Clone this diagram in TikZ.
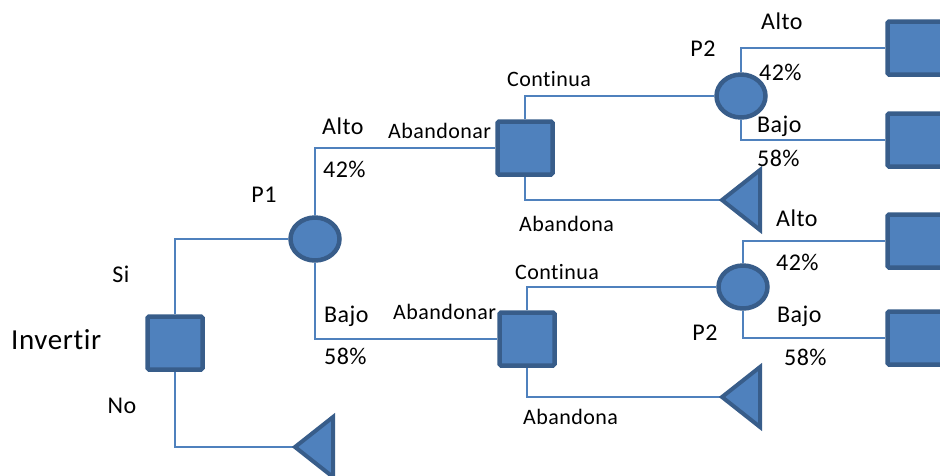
\documentclass[tikz,border=0pt]{standalone}
\usepackage{fontspec}
\setmainfont{Carlito}[Ligatures=NoCommon, LetterSpace=2]
\usetikzlibrary{shapes.geometric,backgrounds}
\definecolor{nodefill}{HTML}{4F81BD}
\definecolor{nodeedge}{HTML}{385D8A}
\definecolor{linkcol}{HTML}{4F81BD}
\tikzset{
  decision/.style={draw=nodeedge, fill=nodefill, line width=4.5pt, rounded corners=1.5pt,
    minimum width=55pt, minimum height=53pt, inner sep=0pt},
  chance/.style={ellipse, draw=nodeedge, fill=nodefill, line width=4.5pt,
    minimum width=49pt, minimum height=43pt, inner sep=0pt},
  endtri/.style={draw=nodeedge, fill=nodefill, line width=4pt, line join=miter},
  link/.style={draw=linkcol, line width=1.6pt},
  lbl/.style={font=\fontsize{24}{24}\selectfont, inner sep=0pt},
  slbl/.style={font=\fontsize{22}{22}\selectfont, inner sep=0pt},
  blbl/.style={font=\fontsize{29}{29}\selectfont, inner sep=0pt, anchor=west}
}
\begin{document}
\begin{tikzpicture}[x=1pt,y=-1pt]
\useasboundingbox (0,0) rectangle (940,475);

% decision and chance nodes
\node[decision] (inv) at (175,343) {};
\node[chance]   (p1)  at (315,239) {};
\node[decision] (d2)  at (525,148) {};
\node[decision] (d3)  at (527,339) {};
\node[chance]   (p2a) at (741,96) {};
\node[chance]   (p2b) at (743,287) {};
\node[decision] (e1)  at (915,48) {};
\node[decision] (e2)  at (915,140) {};
\node[decision] (e3)  at (915,241) {};
\node[decision] (e4)  at (915,338) {};

% terminal triangles (tip coordinates)
\coordinate (t1) at (295,447);
\coordinate (t2) at (722,200);
\coordinate (t3) at (722,397);
\foreach \t in {t1,t2,t3}{
  \draw[endtri] (\t) -- ++(38,-30) -- ++(0,60) -- cycle;
}

% branches
\begin{pgfonlayer}{background}
\draw[link] (inv.north) |- (p1.west);
\draw[link] (inv.south) |- (t1);
\draw[link] (p1.north) |- (d2.west);
\draw[link] (p1.south) |- (d3.west);
\draw[link] (d2.north) |- (p2a.west);
\draw[link] (d2.south) |- (t2);
\draw[link] (d3.north) |- (p2b.west);
\draw[link] (d3.south) |- (t3);
\draw[link] (p2a.north) |- (e1.west);
\draw[link] (p2a.south) |- (e2.west);
\draw[link] (p2b.north) |- (e3.west);
\draw[link] (p2b.south) |- (e4.west);
\end{pgfonlayer}

% labels
\node[blbl] (tinv) at (11,340) {Invertir};
\node[lbl] (tsi) at (121,274) {Si};
\node[lbl] (tno) at (122,406) {No};
\node[lbl] (tp1) at (264,195) {P1};
\node[lbl,anchor=west] (ta1) at (322,126) {Alto};
\node[lbl,anchor=west] (tq1) at (323,169) {42\%};
\node[lbl,anchor=west] (tb1) at (324,316) {Bajo};
\node[lbl,anchor=west] (tr1) at (324,356) {58\%};
\node[slbl,anchor=west] (tab1) at (388,131) {Abandonar};
\node[slbl,anchor=west] (tab2) at (393,312) {Abandonar};
\node[slbl,anchor=west] (tc1) at (507,79) {Continua};
\node[slbl,anchor=west] (tc2) at (515,272) {Continua};
\node[slbl,anchor=west] (tx1) at (519,224) {Abandona};
\node[slbl,anchor=west] (tx2) at (523,417) {Abandona};
\node[lbl] (tp2a) at (703,49) {P2};
\node[lbl] (tp2b) at (705,333) {P2};
\node[lbl,anchor=west] (ta2) at (761,21) {Alto};
\node[lbl,anchor=west] (tq2) at (759,72) {42\%};
\node[lbl,anchor=west] (tb2) at (757,126) {Bajo};
\node[lbl,anchor=west] (tr2) at (757,158) {58\%};
\node[lbl,anchor=west] (ta3) at (776,218) {Alto};
\node[lbl,anchor=west] (tq3) at (776,262) {42\%};
\node[lbl,anchor=west] (tb3) at (777,316) {Bajo};
\node[lbl,anchor=west] (tr3) at (784,357) {58\%};
\end{tikzpicture}
\end{document}
